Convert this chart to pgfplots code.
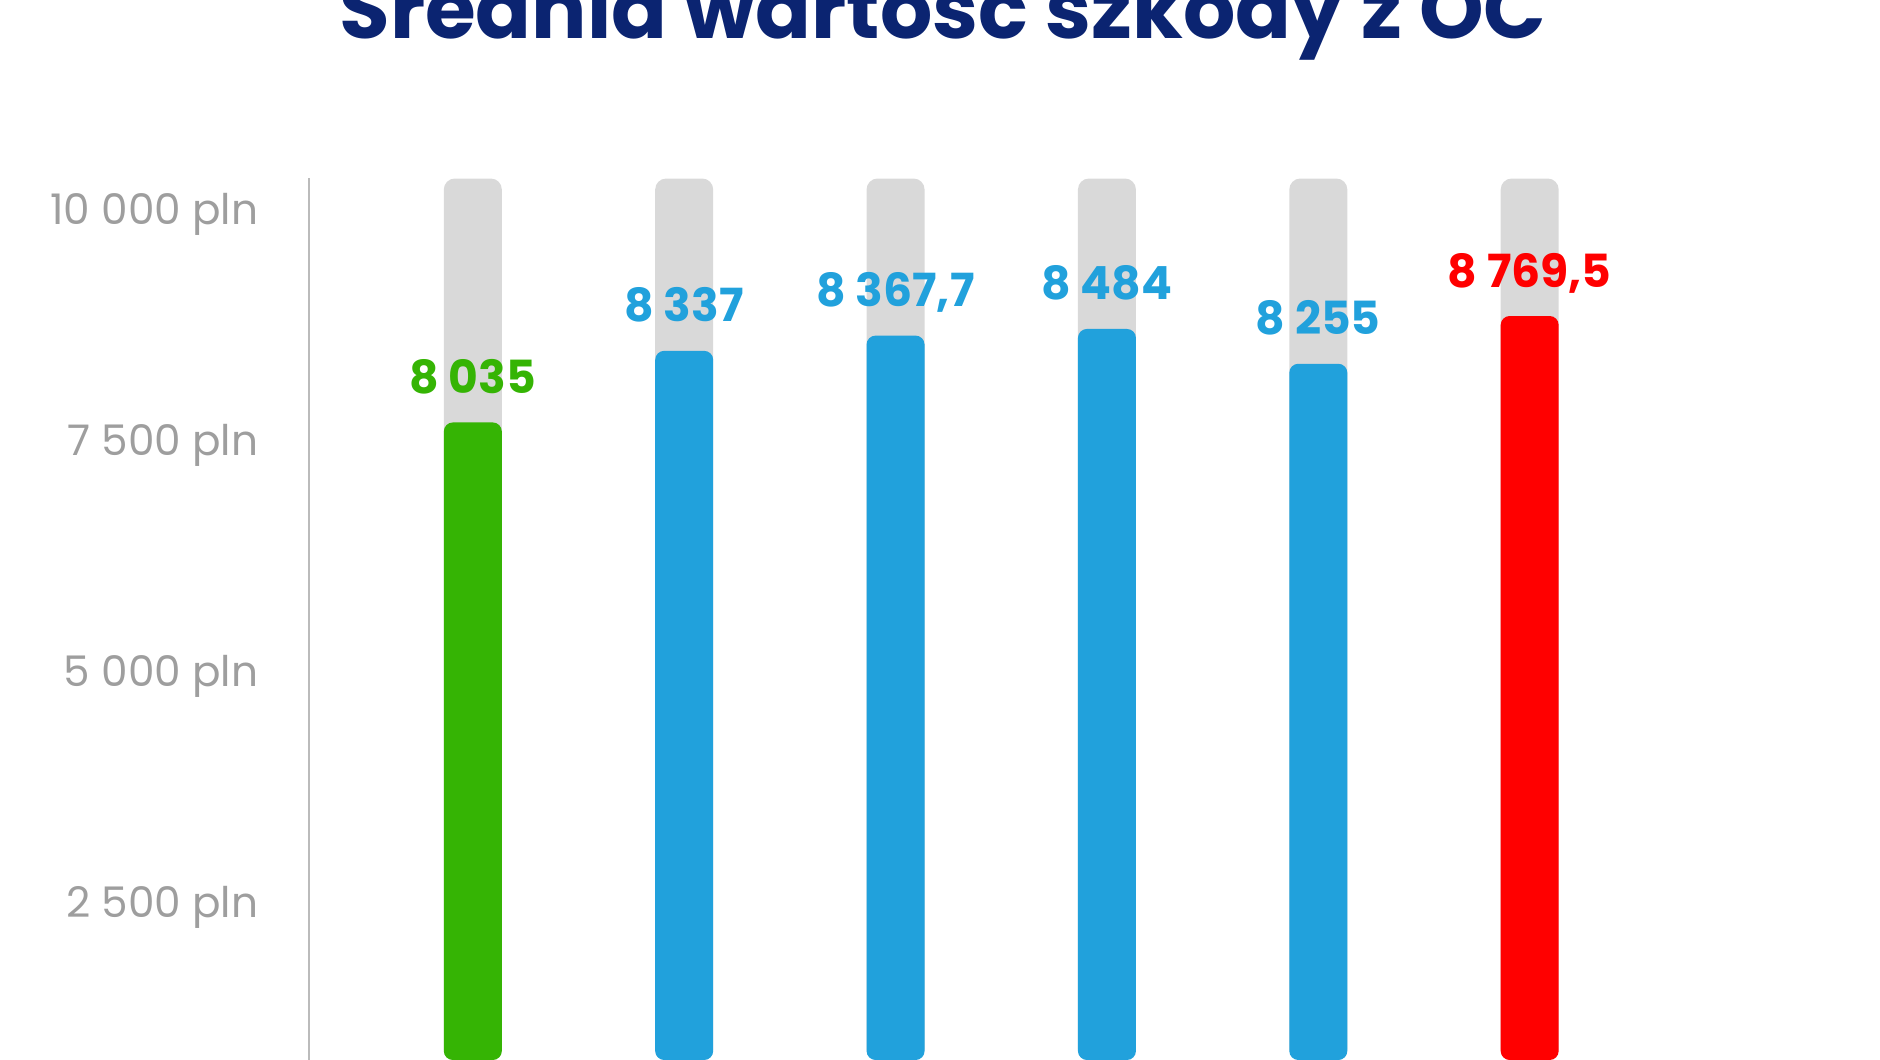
\documentclass[border=0pt]{standalone}
\usepackage{fontspec}
\setmainfont{Poppins}
\usepackage{pgfplots}
\pgfplotsset{compat=1.18}

\definecolor{navy}{HTML}{0B2471}
\definecolor{tickgray}{HTML}{9E9E9E}
\definecolor{bggray}{HTML}{D9D9D9}
\definecolor{cgreen}{HTML}{35B404}
\definecolor{cblue}{HTML}{21A1DC}
\definecolor{cred}{HTML}{FF0000}

\begin{document}
\begin{tikzpicture}
    \useasboundingbox (0,0) rectangle (18.8cm,10.6cm);

    % title, cut off at the top like in the source
    \node[anchor=base, font=\bfseries\fontsize{23.4}{27}\selectfont, text=navy, inner sep=0pt]
        at (9.43cm,10.21cm) {Średnia wartość szkody z OC};

    \begin{axis}[
        at={(3.09cm,0cm)}, anchor=south west,
        scale only axis,
        width=13.94cm, height=8.82cm,
        xmin=-0.775, xmax=5.82,
        ymin=800, ymax=10346,
        ybar=0pt, bar shift=0pt,
        bar width=0.58cm,
        axis x line=none,
        axis y line*=left,
        y axis line style={draw=tickgray!70, line width=0.6pt},
        scaled y ticks=false,
        ytick={2500,5000,7500,10000},
        yticklabels={2 500 pln,5 000 pln,7 500 pln,10 000 pln},
        major tick length=0pt,
        yticklabel style={anchor=east, inner sep=0pt, xshift=-0.5cm, yshift=-0.04cm,
            font=\fontsize{12}{14}\selectfont, text=tickgray},
        every node near coord/.append style={anchor=base, yshift=0.29cm, inner sep=0pt,
            font=\bfseries\fontsize{13}{15}\selectfont},
        ]

        % grey background bars
        \addplot [draw=none, fill=bggray, rounded corners=0.11cm] coordinates {
            (0,10340) (1,10340) (2,10340) (3,10340) (4,10340) (5,10340)
        };

        % green bar
        \addplot [draw=none, fill=cgreen, rounded corners=0.09cm,
            nodes near coords,
            every node near coord/.append style={text=cgreen},
            point meta=explicit symbolic] coordinates {
            (0,7700) [8 035]
        };

        % blue bars
        \addplot [draw=none, fill=cblue, rounded corners=0.09cm,
            nodes near coords,
            every node near coord/.append style={text=cblue},
            point meta=explicit symbolic] coordinates {
            (1,8475) [8 337]
            (2,8640) [8 367,7]
            (3,8712) [8 484]
            (4,8335) [8 255]
        };

        % red bar
        \addplot [draw=none, fill=cred, rounded corners=0.09cm,
            nodes near coords,
            every node near coord/.append style={text=cred},
            point meta=explicit symbolic] coordinates {
            (5,8852) [8 769,5]
        };
    \end{axis}
\end{tikzpicture}
\end{document}
